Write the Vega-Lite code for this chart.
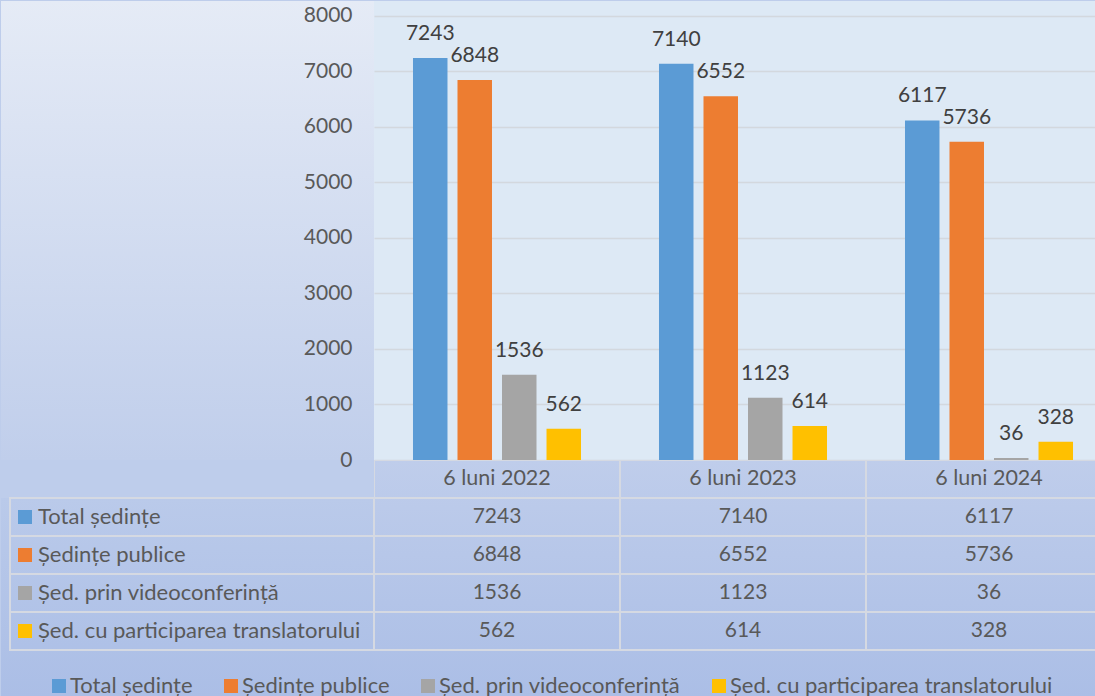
{
  "$schema": "https://vega.github.io/schema/vega-lite/v6.json",
  "padding": 0,
  "background": "#becdeb",
  "spacing": 0,
  "bounds": "flush",
  "columns": 2,
  "data": {
    "values": [
      {"period": "6 luni 2022", "series": "Total ședințe", "value": 7243},
      {"period": "6 luni 2022", "series": "Ședințe publice", "value": 6848},
      {"period": "6 luni 2022", "series": "Șed. prin videoconferință", "value": 1536},
      {"period": "6 luni 2022", "series": "Șed. cu participarea translatorului", "value": 562},
      {"period": "6 luni 2023", "series": "Total ședințe", "value": 7140},
      {"period": "6 luni 2023", "series": "Ședințe publice", "value": 6552},
      {"period": "6 luni 2023", "series": "Șed. prin videoconferință", "value": 1123},
      {"period": "6 luni 2023", "series": "Șed. cu participarea translatorului", "value": 614},
      {"period": "6 luni 2024", "series": "Total ședințe", "value": 6117},
      {"period": "6 luni 2024", "series": "Ședințe publice", "value": 5736},
      {"period": "6 luni 2024", "series": "Șed. prin videoconferință", "value": 36},
      {"period": "6 luni 2024", "series": "Șed. cu participarea translatorului", "value": 328}
    ]
  },
  "concat": [
    {
      "width": 373,
      "height": 459,
      "view": {"stroke": null, "fill": {"gradient": "linear", "x1": 0, "y1": 0, "x2": 0, "y2": 1, "stops": [{"offset": 0, "color": "#e5ebf6"}, {"offset": 1, "color": "#c0ceeb"}]}},
      "mark": {"type": "rule", "opacity": 0},
      "encoding": {}
    },
    {
      "width": 722,
      "height": 459,
      "view": {"stroke": null, "fill": "#dde9f5"},
      "encoding": {
        "x": {"field": "period", "type": "nominal", "scale": {"paddingInner": 0.317, "paddingOuter": 0.1585, "rangeMax": 738}, "axis": null},
        "xOffset": {"field": "series", "type": "nominal", "sort": ["Total ședințe", "Ședințe publice", "Șed. prin videoconferință", "Șed. cu participarea translatorului"], "scale": {"paddingInner": 0.225, "paddingOuter": 0}},
        "y": {"field": "value", "type": "quantitative", "scale": {"domain": [0, 8270], "nice": false},
          "axis": {"values": [0, 1000, 2000, 3000, 4000, 5000, 6000, 7000, 8000], "format": "d", "title": null, "domain": false, "ticks": false, "labelPadding": 22, "labelFontSize": 21, "labelFont": "Lato", "labelColor": "#595959", "gridColor": "#d3d8de", "gridWidth": 1.5}}
      },
      "layer": [
        {
          "mark": {"type": "bar"},
          "encoding": {
            "color": {"field": "series", "type": "nominal",
              "scale": {"domain": ["Total ședințe", "Ședințe publice", "Șed. prin videoconferință", "Șed. cu participarea translatorului"], "range": ["#5b9bd5", "#ed7d31", "#a5a5a5", "#ffc000"]},
              "legend": {"orient": "none", "legendX": 47, "legendY": 674, "padding": 0, "direction": "horizontal", "title": null, "symbolType": "square", "symbolSize": 196, "symbolStrokeWidth": 0, "labelFontSize": 22, "labelFont": "Lato", "labelColor": "#595959", "labelLimit": 400, "labelOffset": 0, "columnPadding": 27}}
          }
        },
        {
          "mark": {"type": "text", "dy": -18, "baseline": "alphabetic", "fontSize": 21, "font": "Lato", "color": "#404040"},
          "encoding": {"text": {"field": "value", "type": "quantitative", "format": "d"}}
        }
      ]
    },
    {
      "width": 373,
      "height": 237,
      "view": {"stroke": null, "fill": {"gradient": "linear", "x1": 0, "y1": 0, "x2": 0, "y2": 1, "stops": [{"offset": 0, "color": "rgba(190,205,235,0)"}, {"offset": 0.16, "color": "rgba(190,205,235,0)"}, {"offset": 0.16, "color": "#bacaea"}, {"offset": 1, "color": "#abbee6"}]}},
      "transform": [{"aggregate": [], "groupby": ["series"]}],
      "encoding": {
        "y": {"field": "series", "type": "nominal", "scale": {"domain": ["header", "Total ședințe", "Ședințe publice", "Șed. prin videoconferință", "Șed. cu participarea translatorului"], "paddingInner": 0, "paddingOuter": 0, "rangeMax": 190}, "axis": null}
      },
      "layer": [
        {
          "mark": {"type": "rect", "fill": null, "stroke": "#d5d9e2", "strokeWidth": 2},
          "encoding": {
            "x": {"datum": "labels", "type": "nominal", "scale": {"domain": ["labels"], "paddingInner": 0, "paddingOuter": 0.01236, "align": 1}, "axis": null}
          }
        },
        {
          "mark": {"type": "point", "shape": "square", "filled": true, "size": 196, "opacity": 1, "strokeWidth": 0},
          "encoding": {
            "x": {"datum": "labels", "type": "nominal", "bandPosition": 0.0412},
            "color": {"field": "series", "type": "nominal"}
          }
        },
        {
          "mark": {"type": "text", "align": "left", "baseline": "middle", "dx": 28, "fontSize": 22, "font": "Lato", "color": "#595959"},
          "encoding": {
            "x": {"datum": "labels", "type": "nominal", "bandPosition": 0},
            "text": {"field": "series"}
          }
        }
      ]
    },
    {
      "width": 722,
      "height": 237,
      "view": {"stroke": null, "fill": {"gradient": "linear", "x1": 0, "y1": 0, "x2": 0, "y2": 1, "stops": [{"offset": 0, "color": "#bfcdeb"}, {"offset": 1, "color": "#abbee6"}]}},
      "encoding": {
        "x": {"field": "period", "type": "nominal", "scale": {"paddingInner": 0, "paddingOuter": 0, "rangeMax": 738}, "axis": null}
      },
      "layer": [
        {
          "mark": {"type": "rect", "fill": null, "stroke": "#d5d9e2", "strokeWidth": 2, "clip": true},
          "encoding": {
            "y": {"field": "series", "type": "nominal", "scale": {"domain": ["header", "Total ședințe", "Ședințe publice", "Șed. prin videoconferință", "Șed. cu participarea translatorului"], "paddingInner": 0, "paddingOuter": 0, "rangeMax": 190}, "axis": null}
          }
        },
        {
          "transform": [{"aggregate": [], "groupby": ["period"]}],
          "mark": {"type": "rect", "fill": null, "stroke": "#d5d9e2", "strokeWidth": 2, "clip": true},
          "encoding": {
            "y": {"datum": "header", "type": "nominal"}
          }
        },
        {
          "mark": {"type": "text", "fontSize": 21, "font": "Lato", "color": "#595959", "baseline": "middle", "clip": true},
          "encoding": {
            "y": {"field": "series", "type": "nominal"},
            "text": {"field": "value", "type": "quantitative", "format": "d"}
          }
        },
        {
          "transform": [{"aggregate": [], "groupby": ["period"]}],
          "mark": {"type": "text", "fontSize": 21.5, "font": "Lato", "color": "#595959", "baseline": "middle", "clip": true},
          "encoding": {
            "y": {"datum": "header", "type": "nominal"},
            "text": {"field": "period"}
          }
        }
      ]
    }
  ],
  "config": {
    "font": "Lato",
    "view": {"stroke": null}
  }
}
